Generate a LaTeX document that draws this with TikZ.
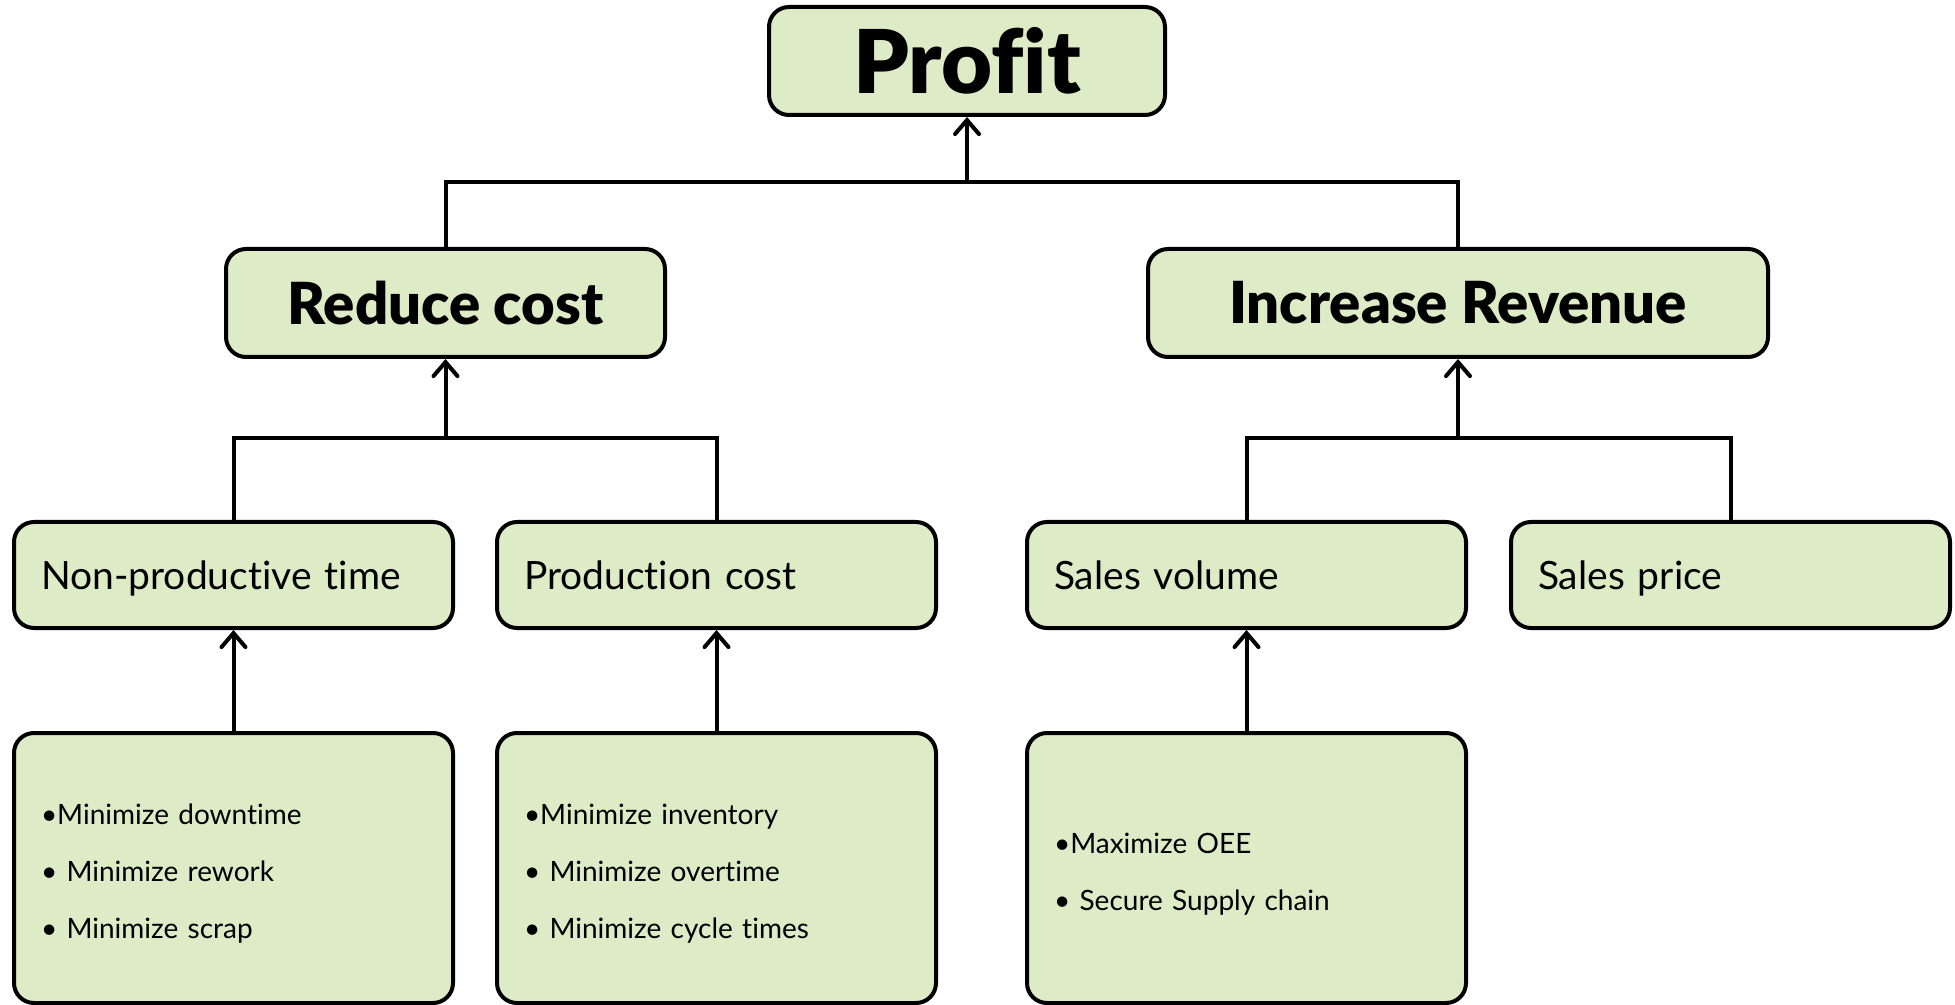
\documentclass[tikz,border=0pt]{standalone}
\usepackage{fontspec}
\setmainfont{Lato}[Ligatures=NoCommon]
\newfontfamily\heavy{Lato Black}[Ligatures=NoCommon]
\usetikzlibrary{arrows.meta}
\definecolor{boxgreen}{RGB}{221,235,198}
\newcommand{\topstrut}{\rule{0pt}{16pt}}
\tikzset{
  box/.style={draw, line width=2pt, rounded corners=10pt, fill=boxgreen, inner sep=0pt},
  titlebox/.style={box, font=\heavy\fontsize{29}{32}\selectfont},
  midbox/.style={box, minimum width=219.5pt, minimum height=53pt, text width=192.5pt, align=left, inner xsep=13.5pt, text height=14pt, text depth=0pt, font=\fontsize{19.5}{23}\selectfont},
  lowbox/.style={box, minimum width=219.5pt, minimum height=135pt, text width=192.5pt, align=left, inner xsep=13.5pt, font=\fontsize{14}{28.5}\selectfont},
  conn/.style={line width=2pt},
  arr/.style={line width=2pt, -{Straight Barb[length=7pt, width=12pt, line cap=round]}}
}
\begin{document}
\begin{tikzpicture}[x=0.5pt, y=-0.5pt]
\useasboundingbox (0,0) rectangle (1955,1005);
\node[titlebox, minimum width=198pt, minimum height=54pt, font=\heavy\fontsize{44}{48}\selectfont] (profit) at (967,61) {Profit};
\node[titlebox, minimum width=219.5pt, minimum height=54pt] (reduce) at (445.5,303) {Reduce cost};
\node[titlebox, minimum width=310pt, minimum height=54pt] (revenue) at (1458,303) {Increase Revenue};
\node[midbox] (npt) at (233.5,575) {Non-productive time};
\node[midbox] (pc) at (716.5,575) {Production cost};
\node[midbox] (sv) at (1246.5,575) {Sales volume};
\node[midbox] (sp) at (1730.5,575) {Sales price};
\node[lowbox] (l1) at (233.5,868) {\topstrut•Minimize downtime\\• Minimize rework\\• Minimize scrap};
\node[lowbox] (l2) at (716.5,868) {\topstrut•Minimize inventory\\• Minimize overtime\\• Minimize cycle times};
\node[lowbox] (l3) at (1246.5,868) {\topstrut•Maximize OEE\\• Secure Supply chain};
\coordinate (j0) at (967,182);
\coordinate (j1) at (445.5,438);
\coordinate (j2) at (1458,438);
\draw[conn] (reduce.north) |- (j0) -| (revenue.north);
\draw[arr] (j0) -- (profit.south);
\draw[conn] (npt.north) |- (j1) -| (pc.north);
\draw[arr] (j1) -- (reduce.south);
\draw[conn] (sv.north) |- (j2) -| (sp.north);
\draw[arr] (j2) -- (revenue.south);
\draw[arr] (l1.north) -- (npt.south);
\draw[arr] (l2.north) -- (pc.south);
\draw[arr] (l3.north) -- (sv.south);
\end{tikzpicture}
\end{document}
